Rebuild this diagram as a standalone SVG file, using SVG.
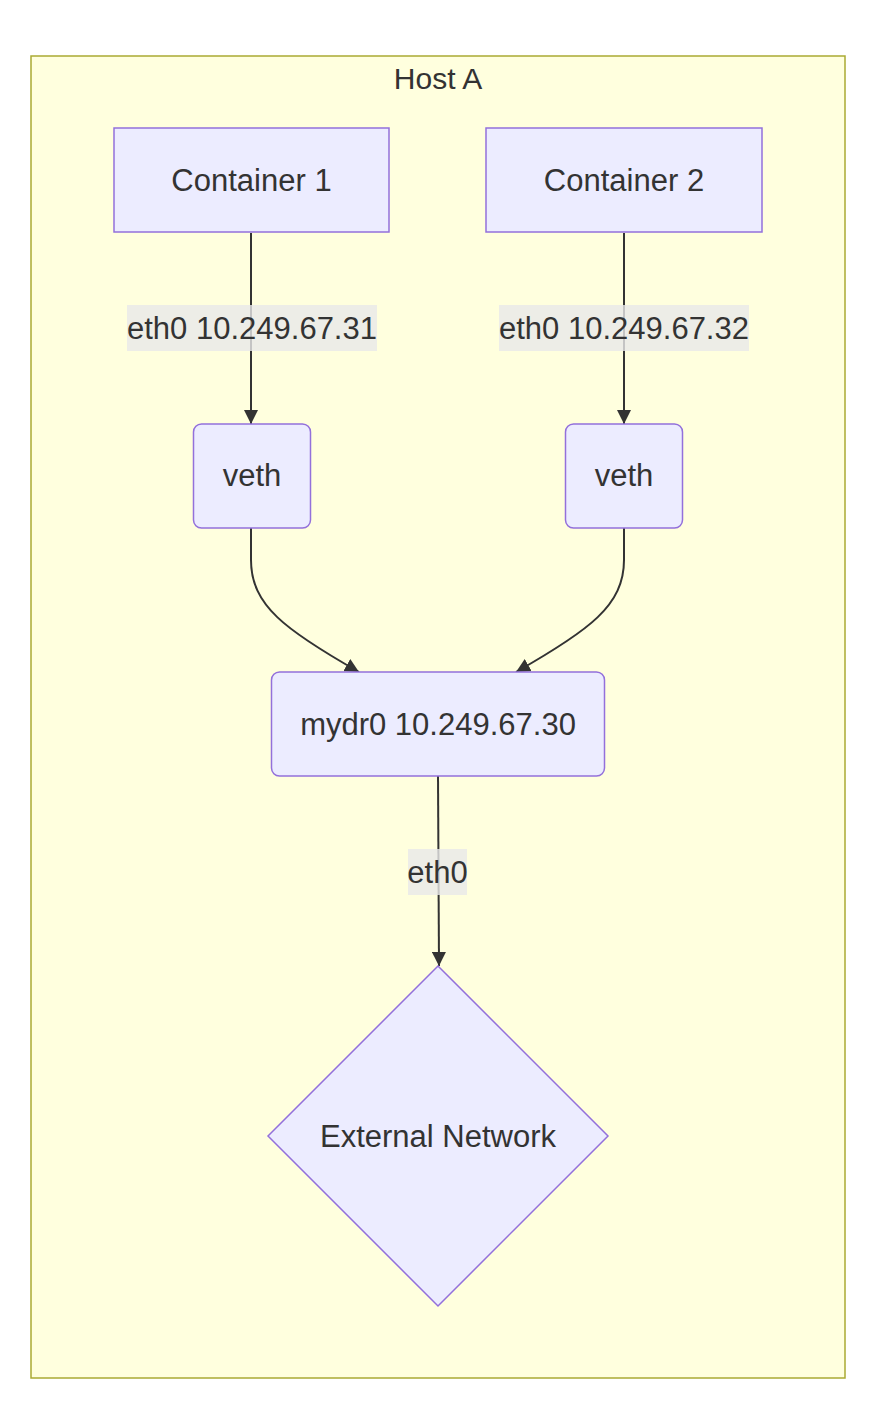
<svg xmlns="http://www.w3.org/2000/svg" width="892" height="1420" viewBox="0 0 892 1420">
<style>
.node{fill:#ECECFF;stroke:#9370DB;stroke-width:1.5}
.t{font-family:"Liberation Sans",Arial,sans-serif;font-size:31px;fill:#333;text-anchor:middle;dominant-baseline:central}
.edge{fill:none;stroke:#333;stroke-width:2}
.lbl{fill:#e8e8e8;fill-opacity:0.8}
</style>
<defs>
<marker id="arr" viewBox="0 0 14 14" refX="14" refY="7" markerWidth="14" markerHeight="14" markerUnits="userSpaceOnUse" orient="auto">
<path d="M0,0 L14,7 L0,14 z" fill="#333"/>
</marker>
</defs>
<rect width="892" height="1420" fill="#fff"/>
<g id="hostA">
<rect x="31" y="56" width="814" height="1322" fill="#ffffde" stroke="#aaaa33" stroke-width="1.5"/>
<text class="t" x="438" y="78" style="font-size:30px">Host A</text>
</g>
<g id="connectors">
<path class="edge" d="M251,233 L251,424" marker-end="url(#arr)"/>
<path class="edge" d="M624,233 L624,424" marker-end="url(#arr)"/>
<path class="edge" d="M251,528 L251,560 C251,605 285,630 359,672" marker-end="url(#arr)"/>
<path class="edge" d="M624,528 L624,560 C624,605 590,630 516,672" marker-end="url(#arr)"/>
<path class="edge" d="M438,776 L439,966" marker-end="url(#arr)"/>
<rect class="lbl" x="127" y="305" width="250" height="46"/>
<text class="t" x="252" y="328">eth0 10.249.67.31</text>
<rect class="lbl" x="499" y="305" width="250" height="46"/>
<text class="t" x="624" y="328">eth0 10.249.67.32</text>
<rect class="lbl" x="408" y="849" width="59" height="46"/>
<text class="t" x="437.5" y="872">eth0</text>
</g>
<g id="container1">
<rect class="node" x="114" y="128" width="275" height="104"/>
<text class="t" x="251.5" y="180">Container 1</text>
</g>
<g id="container2">
<rect class="node" x="486" y="128" width="276" height="104"/>
<text class="t" x="624" y="180">Container 2</text>
</g>
<g id="veth1">
<rect class="node" x="193.5" y="424" width="117" height="104" rx="8"/>
<text class="t" x="252" y="475">veth</text>
</g>
<g id="veth2">
<rect class="node" x="565.5" y="424" width="117" height="104" rx="8"/>
<text class="t" x="624" y="475">veth</text>
</g>
<g id="mydr0">
<rect class="node" x="271.5" y="672" width="333" height="104" rx="8"/>
<text class="t" x="438" y="724">mydr0 10.249.67.30</text>
</g>
<g id="external">
<polygon class="node" points="438,966 608,1136 438,1306 268,1136"/>
<text class="t" x="438" y="1136">External Network</text>
</g>
</svg>
